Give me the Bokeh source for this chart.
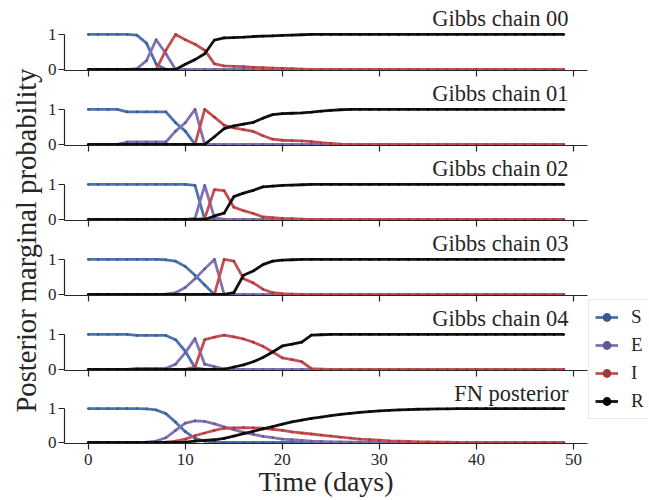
import math
from bokeh.plotting import figure
from bokeh.layouts import row, column
from bokeh.models import Range1d, FixedTicker, Label, Legend, LegendItem
from bokeh.embed import file_html
from bokeh.resources import INLINE

days = list(range(50))
titles = ["Gibbs chain 00", "Gibbs chain 01", "Gibbs chain 02",
          "Gibbs chain 03", "Gibbs chain 04", "FN posterior"]
state_names = ["S", "E", "I", "R"]
x_ticks = [0, 10, 20, 30, 40, 50]
y_ticks = [0, 1]

Z10 = [0, 0, 0, 0, 0, 0, 0, 0, 0, 0]
O10 = [1, 1, 1, 1, 1, 1, 1, 1, 1, 1]

# ---- Gibbs chain 00
S_00 = [1, 1, 1, 1, 1, 0.98, 0.75, 0.15, 0, 0] + Z10 + Z10 + Z10 + Z10
E_00 = [0, 0, 0, 0, 0, 0.02, 0.25, 0.85, 0.45, 0] + Z10 + Z10 + Z10 + Z10
I_00 = ([0, 0, 0, 0, 0, 0, 0, 0, 0.55, 1.0]
        + [0.85, 0.72, 0.55, 0.16, 0.1, 0.09, 0.08, 0.06, 0.05, 0.04]
        + [0.03, 0.02, 0.01, 0, 0, 0, 0, 0, 0, 0] + Z10 + Z10)
R_00 = (Z10
        + [0.15, 0.28, 0.45, 0.84, 0.9, 0.91, 0.92, 0.94, 0.95, 0.96]
        + [0.97, 0.98, 0.99, 1, 1, 1, 1, 1, 1, 1] + O10 + O10)

# ---- Gibbs chain 01
S_01 = ([1, 1, 1, 1, 0.93, 0.93, 0.93, 0.93, 0.93, 0.62]
        + [0.38, 0, 0, 0, 0, 0, 0, 0, 0, 0] + Z10 + Z10 + Z10)
E_01 = ([0, 0, 0, 0, 0.07, 0.07, 0.07, 0.07, 0.07, 0.38]
        + [0.62, 1.0, 0, 0, 0, 0, 0, 0, 0, 0] + Z10 + Z10 + Z10)
I_01 = (Z10
        + [0, 0, 1.0, 0.78, 0.55, 0.47, 0.42, 0.37, 0.25, 0.15]
        + [0.12, 0.11, 0.1, 0.08, 0.05, 0.03, 0.01, 0, 0, 0] + Z10 + Z10)
R_01 = (Z10
        + [0, 0, 0, 0.22, 0.45, 0.53, 0.58, 0.63, 0.75, 0.85]
        + [0.88, 0.89, 0.9, 0.92, 0.95, 0.97, 0.99, 1, 1, 1] + O10 + O10)

# ---- Gibbs chain 02
S_02 = O10 + [1, 0.97, 0, 0, 0, 0, 0, 0, 0, 0] + Z10 + Z10 + Z10
E_02 = Z10 + [0, 0.03, 0.97, 0.05, 0, 0, 0, 0, 0, 0] + Z10 + Z10 + Z10
I_02 = (Z10
        + [0, 0, 0.03, 0.85, 0.82, 0.35, 0.25, 0.17, 0.07, 0.05]
        + [0.03, 0.02, 0.01, 0, 0, 0, 0, 0, 0, 0] + Z10 + Z10)
R_02 = (Z10
        + [0, 0, 0, 0.1, 0.18, 0.65, 0.75, 0.83, 0.93, 0.95]
        + [0.97, 0.98, 0.99, 1, 1, 1, 1, 1, 1, 1] + O10 + O10)

# ---- Gibbs chain 03
S_03 = ([1, 1, 1, 1, 1, 1, 1, 1, 0.99, 0.95]
        + [0.8, 0.55, 0.27, 0, 0, 0, 0, 0, 0, 0] + Z10 + Z10 + Z10)
E_03 = ([0, 0, 0, 0, 0, 0, 0, 0, 0.01, 0.05]
        + [0.2, 0.45, 0.73, 1.0, 0, 0, 0, 0, 0, 0] + Z10 + Z10 + Z10)
I_03 = (Z10
        + [0, 0, 0, 0, 1.0, 0.95, 0.45, 0.33, 0.15, 0.05]
        + [0.02, 0.01, 0, 0, 0, 0, 0, 0, 0, 0] + Z10 + Z10)
R_03 = (Z10
        + [0, 0, 0, 0, 0, 0.05, 0.55, 0.67, 0.85, 0.95]
        + [0.98, 0.99, 1, 1, 1, 1, 1, 1, 1, 1] + O10 + O10)

# ---- Gibbs chain 04
S_04 = ([1, 1, 1, 1, 1, 0.97, 0.97, 0.97, 0.97, 0.85]
        + [0.52, 0.05, 0, 0, 0, 0, 0, 0, 0, 0] + Z10 + Z10 + Z10)
E_04 = ([0, 0, 0, 0, 0, 0.03, 0.03, 0.03, 0.03, 0.15]
        + [0.48, 0.88, 0.15, 0.08, 0.02, 0, 0, 0, 0, 0] + Z10 + Z10 + Z10)
I_04 = (Z10
        + [0, 0.07, 0.85, 0.92, 0.98, 0.93, 0.87, 0.78, 0.66, 0.5]
        + [0.33, 0.28, 0.22, 0.02, 0.01, 0, 0, 0, 0, 0] + Z10 + Z10)
R_04 = (Z10
        + [0, 0, 0, 0, 0, 0.07, 0.13, 0.22, 0.34, 0.5]
        + [0.67, 0.72, 0.78, 0.98, 0.99, 1, 1, 1, 1, 1] + O10 + O10)

# ---- FN posterior
S_fn = ([1, 1, 1, 1, 1, 1, 0.99, 0.96, 0.85, 0.6]
        + [0.32, 0.12, 0.04, 0.01, 0, 0, 0, 0, 0, 0] + Z10 + Z10 + Z10)
E_fn = ([0, 0, 0, 0, 0, 0, 0.01, 0.04, 0.14, 0.36]
        + [0.57, 0.64, 0.62, 0.55, 0.46, 0.38, 0.3, 0.24, 0.18, 0.14]
        + [0.1, 0.08, 0.06, 0.04, 0.03, 0.02, 0.015, 0.01, 0.008, 0.005]
        + [0.003, 0, 0, 0, 0, 0, 0, 0, 0, 0] + Z10)
I_fn = ([0, 0, 0, 0, 0, 0, 0, 0, 0.01, 0.04]
        + [0.1, 0.2, 0.28, 0.36, 0.42, 0.43, 0.44, 0.43, 0.42, 0.39]
        + [0.36, 0.31, 0.28, 0.25, 0.22, 0.19, 0.155, 0.13, 0.102, 0.085]
        + [0.067, 0.05, 0.04, 0.03, 0.02, 0.015, 0.01, 0.007, 0.004, 0.002]
        + Z10)
R_fn = (Z10
        + [0.01, 0.04, 0.06, 0.08, 0.12, 0.19, 0.26, 0.33, 0.4, 0.47]
        + [0.54, 0.61, 0.66, 0.71, 0.75, 0.79, 0.83, 0.86, 0.89, 0.91]
        + [0.93, 0.95, 0.96, 0.97, 0.98, 0.985, 0.99, 0.993, 0.996, 0.998]
        + O10)

panels = [
    (S_00, E_00, I_00, R_00),
    (S_01, E_01, I_01, R_01),
    (S_02, E_02, I_02, R_02),
    (S_03, E_03, I_03, R_03),
    (S_04, E_04, I_04, R_04),
    (S_fn, E_fn, I_fn, R_fn),
]

FONT = "Liberation Serif"
INK = "#262626"
line_colors = ["#4C72B0", "#8172B3", "#C44E52", "#111111"]
dot_colors = ["#3a5a8e", "#63568f", "#9c3a3e", "#000000"]
LW = 2.8
MS = 2.6

n = len(titles)
figs = []
for k, (title, series) in enumerate(zip(titles, panels)):
    first = (k == 0)
    last = (k == n - 1)
    top_b = 8 if first else 2
    bot_b = 54 if last else 11
    p = figure(width=544, height=top_b + 62 + bot_b, title=None,
               x_range=Range1d(-2.45, 51.45), y_range=Range1d(-0.03, 1.74),
               output_backend="svg", toolbar_location=None,
               min_border_left=19, min_border_right=1, min_border_top=top_b,
               min_border_bottom=bot_b)
    p.outline_line_color = None
    p.grid.visible = False
    p.background_fill_color = "white"
    p.border_fill_color = "white"

    for vals, lc, dc in zip(series, line_colors, dot_colors):
        p.line(days, vals, line_color=lc, line_width=LW, line_join="round")
        p.scatter(days, vals, size=MS, fill_color=dc, line_color=None)

    p.add_layout(Label(x=49.5, y=1.45, text=title, text_align="right",
                       text_baseline="middle", text_font=FONT,
                       text_font_size="22.5px", text_color=INK))

    ya = p.yaxis[0]
    ya.ticker = FixedTicker(ticks=y_ticks)
    ya.bounds = (-0.03, 1.0)
    ya.axis_line_color = INK
    ya.axis_line_width = 1.2
    ya.major_tick_line_color = INK
    ya.major_tick_line_width = 1.2
    ya.major_tick_out = 6
    ya.major_tick_in = 0
    ya.minor_tick_out = 0
    ya.minor_tick_in = 0
    ya.major_label_standoff = 2
    ya.major_label_text_font = FONT
    ya.major_label_text_font_size = "17px"
    ya.major_label_text_color = INK

    xa = p.xaxis[0]
    xa.ticker = FixedTicker(ticks=x_ticks)
    xa.axis_line_color = INK
    xa.axis_line_width = 1.2
    xa.major_tick_line_color = INK
    xa.major_tick_line_width = 1.2
    xa.major_tick_out = 6
    xa.major_tick_in = 0
    xa.minor_tick_out = 0
    xa.minor_tick_in = 0
    if last:
        xa.major_label_standoff = 4
        xa.major_label_text_font = FONT
        xa.major_label_text_font_size = "17px"
        xa.major_label_text_color = INK
        xa.axis_label = "Time (days)"
        xa.axis_label_text_font = FONT
        xa.axis_label_text_font_size = "28px"
        xa.axis_label_text_font_style = "normal"
        xa.axis_label_text_color = INK
        xa.axis_label_standoff = -2
    else:
        xa.major_label_standoff = 0
        xa.major_label_text_font_size = "1px"
        xa.major_label_text_color = None
    figs.append(p)

total_h = sum(f.height for f in figs)

# y-axis label strip
ylab = figure(width=44, height=total_h, title=None,
              x_range=Range1d(0, 44), y_range=Range1d(0, total_h),
              output_backend="svg", toolbar_location=None,
              x_axis_location=None, y_axis_location=None, min_border=0)
ylab.outline_line_color = None
ylab.grid.visible = False
ylab.add_layout(Label(x=26, y=total_h - 240, text="Posterior marginal probability",
                      angle=math.pi / 2, text_align="center", text_baseline="middle",
                      text_font=FONT, text_font_size="28.6px", text_color=INK))

# legend strip (its glyph renderers sit outside the visible range)
lg = figure(width=60, height=total_h, title=None,
            x_range=Range1d(-80, -79), y_range=Range1d(0, 1),
            output_backend="svg", toolbar_location=None,
            x_axis_location=None, y_axis_location=None, min_border=0)
lg.outline_line_color = None
lg.grid.visible = False
items = []
for name, vals, lc, dc in zip(state_names, panels[-1], line_colors, dot_colors):
    r1 = lg.line(days, vals, line_color=lc, line_width=LW)
    r2 = lg.scatter(days, vals, size=MS + 1, fill_color=dc, line_color=None)
    items.append(LegendItem(label=name, renderers=[r1, r2]))
legend = Legend(items=items, location=(0, total_h - 419), margin=0, padding=6, spacing=6,
                glyph_width=23, glyph_height=22, label_height=22, label_standoff=13,
                label_text_font=FONT, label_text_font_size="19px", label_text_color=INK,
                border_line_color="#d0d0d0", border_line_width=1,
                background_fill_color="white", background_fill_alpha=1)
lg.add_layout(legend)

layout = row(ylab, column(*figs), lg)

open("out.html", "w").write(file_html(layout, INLINE))
